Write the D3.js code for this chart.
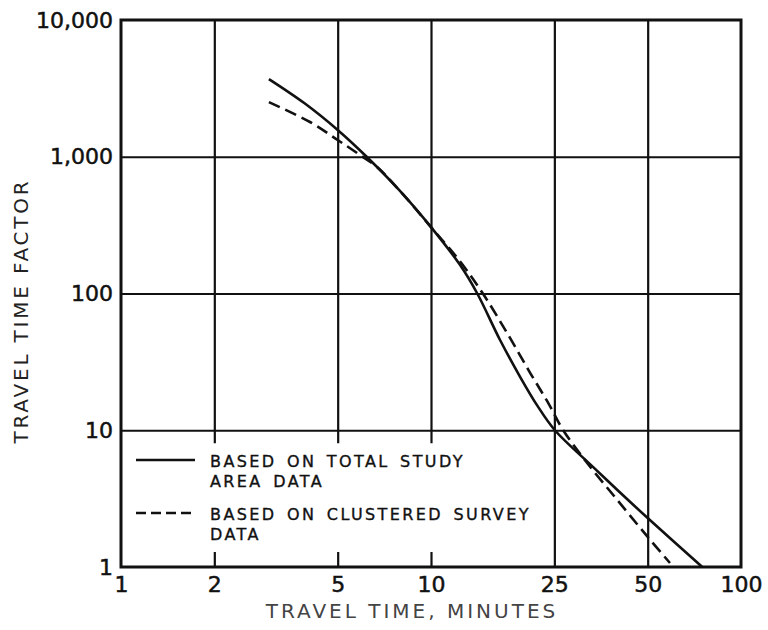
<!DOCTYPE html>
<html>
<head>
<meta charset="utf-8">
<script src="https://cdn.jsdelivr.net/npm/d3@7"></script>
<style>
  body { margin: 0; background: #fff; }
  text { font-family: "DejaVu Sans", sans-serif; fill: #111; }
</style>
</head>
<body>
<div id="chart"></div>
<script>
// data (travel time in minutes vs travel time factor)
var totalTime = [3.0, 3.9, 5.0, 6.2, 7.9, 10, 12.4, 14.1, 16.7, 19.4, 22, 25.1, 33.3, 40, 50, 75];
var totalFactor = [3700, 2470, 1570, 1000, 570, 306, 162, 100, 45.7, 24.5, 15.2, 10, 5.4, 3.64, 2.28, 1.0];

var clusterTime = [3.0, 4.07, 5.0, 5.9, 6.7, 7.9, 10, 12.4, 14.7, 17.6, 20.9, 23.9, 26.7, 31.9, 40, 50, 59];
var clusterFactor = [2510, 1795, 1326, 1030, 841, 570, 306, 172, 100, 51.4, 26.2, 15.8, 10, 5.76, 3.07, 1.66, 1.07];

var xTicks = [1, 2, 5, 10, 25, 50, 100];
var xTickLabels = ["1", "2", "5", "10", "25", "50", "100"];
var yTicks = [1, 10, 100, 1000, 10000];
var yTickLabels = ["1", "10", "100", "1,000", "10,000"];

var xGrid = [2, 5, 10, 25, 50];
var yGrid = [10, 100, 1000];

var legendLabels = [
  ["BASED ON TOTAL STUDY", "AREA DATA"],
  ["BASED ON CLUSTERED SURVEY", "DATA"]
];

// plot box in pixels (note: "top" is taken by window.top, so prefix them)
var
width = 768,
height = 630,
plotLeft = 121, plotRight = 741, plotTop = 20, plotBottom = 567;

var svg = d3.select("#chart").append("svg")
  .attr("width", width)
  .attr("height", height);

var x = d3.scaleLog().domain([1, 100]).range([plotLeft, plotRight]);
var y = d3.scaleLog().domain([1, 10000]).range([plotBottom, plotTop]);

// grid lines, drawn with axes so they come from the scales
svg.append("g")
  .attr("transform", "translate(0," + plotBottom + ")")
  .call(d3.axisBottom(x).tickValues(xGrid).tickSize(-(plotBottom - plotTop)).tickFormat(""))
  .call(function(g) {
    g.select(".domain").remove();
    g.selectAll("line").attr("stroke", "#111").attr("stroke-width", 2.2);
  });

svg.append("g")
  .attr("transform", "translate(" + plotLeft + ",0)")
  .call(d3.axisLeft(y).tickValues(yGrid).tickSize(-(plotRight - plotLeft)).tickFormat(""))
  .call(function(g) {
    g.select(".domain").remove();
    g.selectAll("line").attr("stroke", "#111").attr("stroke-width", 2.2);
  });

// legend sits in a clear box, the grid only shows as short stubs around it
svg.append("rect")
  .attr("x", plotLeft + 2)
  .attr("y", y(10) + 13)
  .attr("width", 424)
  .attr("height", (plotBottom - y(10)) - 28)
  .attr("fill", "#fff");

// frame
svg.append("rect")
  .attr("x", plotLeft)
  .attr("y", plotTop)
  .attr("width", plotRight - plotLeft)
  .attr("height", plotBottom - plotTop)
  .attr("fill", "none")
  .attr("stroke", "#111")
  .attr("stroke-width", 3);

// tick labels
svg.append("g")
  .attr("transform", "translate(0," + plotBottom + ")")
  .call(d3.axisBottom(x).tickValues(xTicks).tickSize(0).tickPadding(9)
    .tickFormat(function(d, i) { return xTickLabels[i]; }))
  .call(function(g) {
    g.select(".domain").remove();
    g.selectAll("text").attr("font-size", 22).attr("fill", "#111")
      .attr("stroke", "#111").attr("stroke-width", 0.5)
      .attr("font-family", "DejaVu Sans, sans-serif");
  });

svg.append("g")
  .attr("transform", "translate(" + (plotLeft - 8) + ",0)")
  .call(d3.axisLeft(y).tickValues(yTicks).tickSize(0).tickPadding(0)
    .tickFormat(function(d, i) { return yTickLabels[i]; }))
  .call(function(g) {
    g.select(".domain").remove();
    g.selectAll("text").attr("font-size", 22).attr("fill", "#111")
      .attr("stroke", "#111").attr("stroke-width", 0.5)
      .attr("font-family", "DejaVu Sans, sans-serif");
  });

// axis titles
svg.append("text")
  .attr("x", 412)
  .attr("y", 618)
  .attr("text-anchor", "middle")
  .attr("font-size", 20)
  .attr("letter-spacing", 3)
  .style("fill", "#444")
  .text("TRAVEL TIME, MINUTES");

svg.append("text")
  .attr("transform", "translate(28,311) rotate(-90)")
  .attr("text-anchor", "middle")
  .attr("font-size", 20)
  .attr("letter-spacing", 2.8)
  .style("fill", "#222")
  .text("TRAVEL TIME FACTOR");

// the two curves
var line = d3.line()
  .x(function(d) { return x(d[0]); })
  .y(function(d) { return y(d[1]); })
  .curve(d3.curveCatmullRom.alpha(0.5));

svg.append("path")
  .datum(d3.zip(totalTime, totalFactor))
  .attr("d", line)
  .attr("fill", "none")
  .attr("stroke", "#111")
  .attr("stroke-width", 2.6);

svg.append("path")
  .datum(d3.zip(clusterTime, clusterFactor))
  .attr("d", line)
  .attr("fill", "none")
  .attr("stroke", "#111")
  .attr("stroke-width", 2.6)
  .attr("stroke-dasharray", "12,6");

// legend
var legendTop = [460, 513];
var legend = svg.append("g");

legendLabels.forEach(function(lines, i) {
  legend.append("line")
    .attr("x1", 136).attr("x2", 195)
    .attr("y1", legendTop[i]).attr("y2", legendTop[i])
    .attr("stroke", "#111")
    .attr("stroke-width", 2.6)
    .attr("stroke-dasharray", i === 1 ? "10,5" : null);

  lines.forEach(function(t, j) {
    legend.append("text")
      .attr("x", 210)
      .attr("y", legendTop[i] + 7 + j * 20)
      .attr("font-size", 16)
      .attr("letter-spacing", 2.4)
      .attr("word-spacing", 3)
      .attr("stroke", "#111")
      .attr("stroke-width", 0.35)
      .text(t);
  });
});
</script>
</body>
</html>
